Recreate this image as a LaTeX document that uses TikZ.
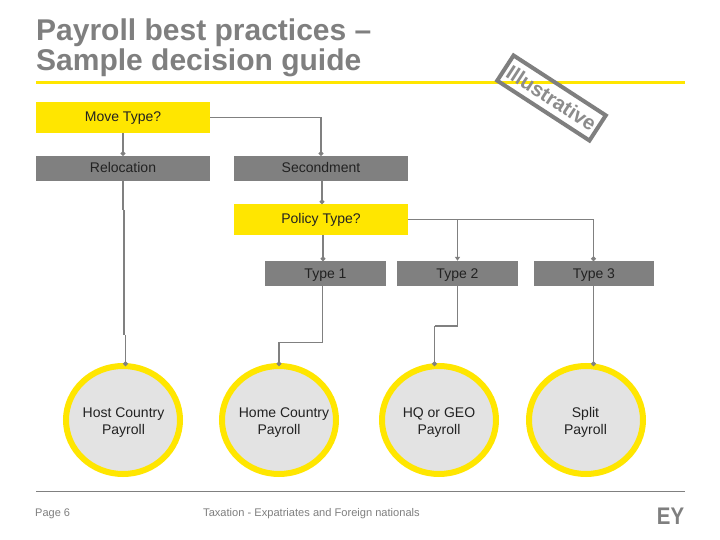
\documentclass[tikz,border=0pt]{standalone}
\usepackage{fontspec}
\setmainfont{Liberation Sans}
\usetikzlibrary{arrows.meta,shapes.geometric}
\definecolor{eyy}{HTML}{FFE600}
\definecolor{eyg}{HTML}{808080}
\definecolor{eyt}{HTML}{7F7F7F}
\definecolor{eyd}{HTML}{222222}
\tikzset{
 ybox/.style={fill=eyy,draw=none,minimum width=174pt,minimum height=31pt,inner sep=0pt,text height=10.5pt,text depth=1.5pt,font=\fontsize{14}{17}\selectfont,text=eyd},
 gbox/.style={fill=eyg,draw=none,minimum height=25pt,inner sep=0pt,text height=10.5pt,text depth=1.5pt,font=\fontsize{14}{17}\selectfont,text=eyd},
 circ/.style={ellipse,fill=black!11,draw=eyy,line width=6pt,minimum width=114pt,minimum height=108pt,inner sep=0pt,outer sep=0pt},
 circtext/.style={inner sep=0pt,align=center,font=\fontsize{14}{17}\selectfont,text=eyd},
 conn/.style={draw=eyg,line width=1.5pt,-{Circle[length=4.5pt,width=4.5pt]}},
 seg/.style={draw=eyg,line width=1pt},
}
\begin{document}
\begin{tikzpicture}[x=1pt,y=-1pt]
\useasboundingbox (0,0) rectangle (720,540);
\fill[white] (0,0) rectangle (720,540);
\node[anchor=north west,inner sep=0pt,align=left,text=eyt,font=\fontsize{30}{30}\selectfont\bfseries] (title) at (36,19) {Payroll best practices --\\Sample decision guide};
\coordinate (rl) at (36,82.5); \coordinate (rr) at (685,82.5);
\draw[eyy,line width=3pt] (rl) -- (rr);
% stamp
\node[rotate=-33,draw=eyt,line width=4pt,fill=none,minimum width=110pt,minimum height=30pt,inner sep=0pt,text=black!45,font=\fontsize{20.5}{22}\selectfont\bfseries] (stamp) at (551.5,98) {Illustrative};
% boxes
\node[ybox] (move) at (123,117.5) {Move Type?};
\node[gbox,minimum width=174pt] (reloc) at (123,168.5) {Relocation};
\node[gbox,minimum width=174pt] (second) at (321,168.5) {Secondment};
\node[ybox] (policy) at (321,219.5) {Policy Type?};
\node[gbox,minimum width=121pt] (t1) at (325.5,273.5) {Type 1};
\node[gbox,minimum width=121pt] (t2) at (457.5,273.5) {Type 2};
\node[gbox,minimum width=120pt] (t3) at (594,273.5) {Type 3};
\node[circ] (c1) at (123,420) {};
\node[circ] (c2) at (279,420) {};
\node[circ] (c3) at (439,420) {};
\node[circ] (c4) at (586,420) {};
\node[circtext] (c1t) at (123.5,422.5) {Host Country\\Payroll};
\node[circtext] (c2t) at (279,422.5) {\hspace*{10pt}Home Country\\Payroll};
\node[circtext] (c3t) at (439,422.5) {HQ or GEO\\Payroll};
\node[circtext] (c4t) at (585.5,422.5) {Split\\Payroll};
% connectors
\draw[conn] (move.south) -- (reloc.north);
\coordinate (mk) at (321,117.5);
\draw[seg] (move.east) -- (mk);
\draw[conn] (mk) -- (second.north);
\coordinate (s2) at (322,181);
\coordinate (p2t) at (322,204);
\draw[conn] (s2) -- (p2t);
% relocation long line with its small jogs
\coordinate (r1) at (123,210); \coordinate (r2) at (124,210);
\coordinate (r3) at (124,335); \coordinate (r4) at (125.5,335);
\coordinate (r5) at (125.5,366);
\draw[draw=eyg,line width=1.5pt] (reloc.south) -- (r1);
\draw[draw=eyg,line width=1.5pt] (r2) -- (r3);
\draw[conn] (r4) -- (r5);
% policy fan-out
\coordinate (j2) at (457.5,219.5); \coordinate (j3) at (593.5,219.5);
\coordinate (t3t) at (593.5,261); \coordinate (t3b) at (593.5,286);
\draw[seg] (policy.east) -- (j3);
\draw[conn] (j3) -- (t3t);
\draw[draw=eyg,line width=1pt,-{Triangle[length=4pt,width=5pt]}] (j2) -- (t2.north);
\coordinate (p1b) at (323,235); \coordinate (t1t) at (323,261);
\draw[conn] (p1b) -- (t1t);
% type 1 to home
\coordinate (t1b) at (322,286); \coordinate (k1) at (322,342); \coordinate (k2) at (279,342);
\draw[seg] (t1b) -- (k1) -- (k2);
\draw[conn] (k2) -- (c2.north);
% type 2 to HQ
\coordinate (k3) at (457.5,326); \coordinate (k4) at (434.5,326); \coordinate (k5) at (434.5,366);
\draw[seg] (t2.south) -- (k3);
\draw[draw=eyg,line width=1.3pt] (k3) -- (k4);
\draw[conn] (k4) -- (k5);
% type 3 to split
\coordinate (c4e) at (593.5,366);
\draw[conn] (t3b) -- (c4e);
% footer
\coordinate (fl) at (36,491); \coordinate (fr) at (685,491);
\draw[eyg,line width=.8pt] (fl) -- (fr);
\node[anchor=west,inner sep=0pt,text=eyt,font=\fontsize{11}{13}\selectfont] (page) at (35,514) {Page 6};
\node[anchor=west,inner sep=0pt,text=eyt,font=\fontsize{11.1}{13}\selectfont] (foot) at (203,514) {Taxation - Expatriates and Foreign nationals};
\node[anchor=center,inner sep=0pt,xscale=.85,text=eyt,font=\fontsize{24}{24}\selectfont\bfseries] (ey) at (670.5,516) {EY};
\end{tikzpicture}
\end{document}
